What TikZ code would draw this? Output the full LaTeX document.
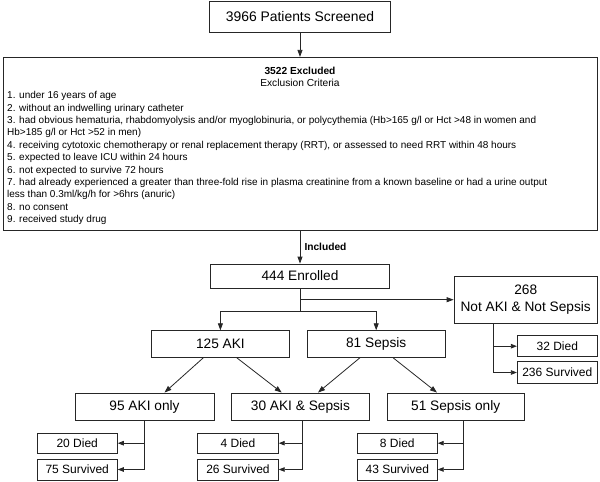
\documentclass[tikz,border=0pt]{standalone}
\usepackage{fontspec}
\setmainfont{Liberation Sans}
\usetikzlibrary{arrows.meta,calc}
\begin{document}
\begin{tikzpicture}[x=1pt,y=-1pt,
  box/.style={draw=black!85, line width=0.8pt, inner sep=0pt, align=center, font=\fontsize{13.7}{17.6}\selectfont},
  smallbox/.style={box, font=\fontsize{12}{14}\selectfont},
  listtext/.style={inner sep=0pt, anchor=base west, font=\fontsize{10}{12.4}\selectfont},
  conn/.style={draw=black!85, line width=0.8pt},
  arr/.style={conn, -{Triangle[length=7pt,width=5pt]}},
  sarr/.style={conn, -{Triangle[length=6pt,width=4.5pt]}},
]
\useasboundingbox (0,0) rectangle (600,482);

% top
\node[box, minimum width=181.4pt, minimum height=31pt, font=\fontsize{13.9}{16}\selectfont] (screened) at (300,16.5) {3966 Patients Screened};
\node[draw=black!85, line width=0.8pt, minimum width=594pt, minimum height=173.4pt, inner sep=0pt] (excl) at (300,144) {};
\node[inner sep=0pt, font=\bfseries\fontsize{10.2}{12}\selectfont] (exclt) at (300,71.3) {3522 Excluded};
\node[inner sep=0pt, font=\fontsize{10.2}{12}\selectfont] (exclc) at (300,83) {Exclusion Criteria};

\foreach \t [count=\i from 0] in {
  {1. under 16 years of age},
  {2. without an indwelling urinary catheter},
  {3. had obvious hematuria, rhabdomyolysis and/or myoglobinuria, or polycythemia (Hb>165 g/l or Hct >48 in women and},
  {Hb>185 g/l or Hct >52 in men)},
  {4. receiving cytotoxic chemotherapy or renal replacement therapy (RRT), or assessed to need RRT within 48 hours},
  {5. expected to leave ICU within 24 hours},
  {6. not expected to survive 72 hours},
  {7. had already experienced a greater than three-fold rise in plasma creatinine from a known baseline or had a urine output},
  {less than 0.3ml/kg/h for >6hrs (anuric)},
  {8. no consent},
  {9. received study drug}}
  \node[listtext] (line\i) at (7,{98.6+12.4*\i}) {\t};

% enrolled
\node[box, minimum width=178.6pt, minimum height=24pt] (enrolled) at (300,276) {444 Enrolled};
\node[inner sep=0pt, anchor=base west, font=\bfseries\fontsize{10.2}{12}\selectfont] (incl) at (304.3,250.4) {Included};

\node[box, minimum width=143.3pt, minimum height=47.3pt] (other) at (525.7,299.7) {268\\Not AKI \& Not Sepsis};
\node[box, minimum width=137.3pt, minimum height=26.6pt] (aki) at (220.4,344) {125 AKI};
\node[box, minimum width=137.7pt, minimum height=26.6pt] (sepsis) at (376.2,344) {81 Sepsis};

\node[box, minimum width=139pt, minimum height=27.5pt] (akionly) at (144.5,406.7) {95 AKI only};
\node[box, minimum width=137.3pt, minimum height=27.5pt] (akisep) at (300.4,406.7) {30 AKI \& Sepsis};
\node[box, minimum width=136.7pt, minimum height=27.5pt] (sepsisonly) at (455.7,406.7) {51 Sepsis only};

\node[smallbox, minimum width=80.3pt, minimum height=20.3pt] (died1) at (77.2,443.2) {20 Died};
\node[smallbox, minimum width=80.3pt, minimum height=21pt] (surv1) at (77.2,469.5) {75 Survived};
\node[smallbox, minimum width=80.6pt, minimum height=20.3pt] (died2) at (238,443.2) {4 Died};
\node[smallbox, minimum width=80.6pt, minimum height=21pt] (surv2) at (238,469.5) {26 Survived};
\node[smallbox, minimum width=80pt, minimum height=20.3pt] (died3) at (397.3,443.2) {8 Died};
\node[smallbox, minimum width=80pt, minimum height=21pt] (surv3) at (397.3,469.5) {43 Survived};
\node[smallbox, minimum width=80pt, minimum height=21pt] (died4) at (557.3,346.2) {32 Died};
\node[smallbox, minimum width=80pt, minimum height=21.6pt] (surv4) at (557.3,372.5) {236 Survived};

% connectors
\draw[arr] (screened.south) -- (excl.north);
\draw[arr] (excl.south) -- (enrolled.north);
\coordinate (split) at (300,311.7);
\draw[conn] (enrolled.south) -- (split);
\draw[arr] (enrolled.south |- other.west) -- (other.west);
\draw[arr] (split) -| (aki.north);
\draw[arr] (split) -| (sepsis.north);

\draw[arr] ($(aki.south)+(-17,0)$) -- ($(akionly.north)+(20,0)$);
\draw[arr] ($(aki.south)+(16.3,0)$) -- ($(akisep.north)+(-18.7,0)$);
\draw[arr] ($(sepsis.south)+(-16.2,0)$) -- ($(akisep.north)+(17.6,0)$);
\draw[arr] ($(sepsis.south)+(16.8,0)$) -- ($(sepsisonly.north)+(-18.7,0)$);

\coordinate (st1) at (akionly.south);
\coordinate (st2) at ($(akisep.south)+(2,0)$);
\coordinate (st3) at ($(sepsisonly.south)+(7.6,0)$);
\coordinate (st4) at ($(other.south west)+(40,0)$);
\draw[sarr] (st1) |- (surv1.east);
\draw[sarr] (st1 |- died1.east) -- (died1.east);
\draw[sarr] (st2) |- (surv2.east);
\draw[sarr] (st2 |- died2.east) -- (died2.east);
\draw[sarr] (st3) |- (surv3.east);
\draw[sarr] (st3 |- died3.east) -- (died3.east);
\draw[sarr] (st4) |- (surv4.west);
\draw[sarr] (st4 |- died4.west) -- (died4.west);
\end{tikzpicture}
\end{document}
